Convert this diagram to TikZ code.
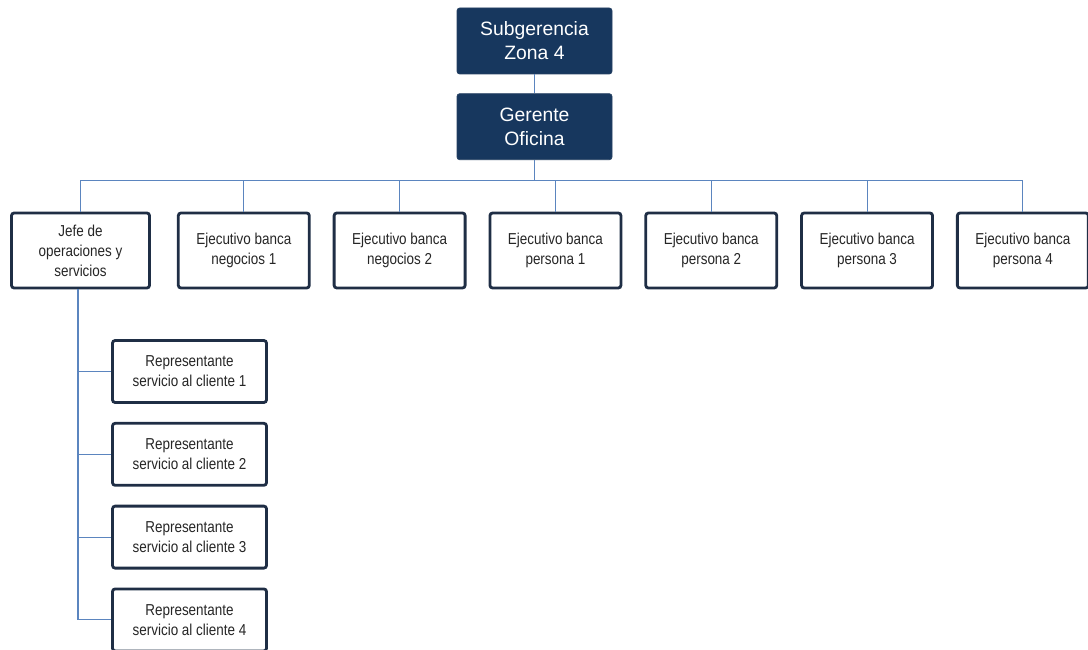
\documentclass[tikz,border=0pt]{standalone}
\usepackage{fontspec}
\setmainfont{Liberation Sans}
\newfontfamily\boxfont{Liberation Sans}[FakeStretch=0.85]
\usetikzlibrary{positioning}
\definecolor{navy}{HTML}{17375E}
\definecolor{boxline}{HTML}{1F2E45}
\definecolor{linkblue}{HTML}{5B85BF}

\begin{document}
\begin{tikzpicture}[
    % General node distance between boxes of one row
    node distance=0.44cm,
    % Styles
    head/.style={rectangle, draw=navy!85!gray, fill=navy, rounded corners=1.5pt, minimum width=3.1cm, minimum height=1.32cm, text=white, align=center, font=\fontsize{11}{13.6}\selectfont},
    unit/.style={rectangle, draw=boxline, line width=1.6pt, rounded corners=1.5pt, fill=white, minimum width=2.62cm, minimum height=1.5cm, align=center, text=black!85, font=\boxfont\fontsize{9}{11.3}\selectfont},
    rep/.style={unit, minimum width=3.08cm, minimum height=1.24cm},
    link/.style={draw=linkblue, line width=0.6pt}
]
\useasboundingbox (0,0) rectangle (21.76,-13);

% --- Top of the chart ---
\node[head] (sub) at (10.69,-0.82) {Subgerencia\\Zona 4};
\node[head, below=0.38cm of sub] (ger) {Gerente\\Oficina};

% --- Second row ---
\node[unit, minimum width=2.76cm] (jefe) at (1.61,-5.01) {Jefe de\\operaciones y\\servicios};
\node[unit, right=0.52cm of jefe] (neg1) {Ejecutivo banca\\negocios 1};
\node[unit, right=of neg1] (neg2) {Ejecutivo banca\\negocios 2};
\node[unit, right=of neg2] (per1) {Ejecutivo banca\\persona 1};
\node[unit, right=of per1] (per2) {Ejecutivo banca\\persona 2};
\node[unit, right=of per2] (per3) {Ejecutivo banca\\persona 3};
\node[unit, right=of per3] (per4) {Ejecutivo banca\\persona 4};

% --- Staff under the Jefe ---
\node[rep] (rep1) at (3.79,-7.43) {Representante\\servicio al cliente 1};
\node[rep, below=0.36cm of rep1] (rep2) {Representante\\servicio al cliente 2};
\node[rep, below=0.36cm of rep2] (rep3) {Representante\\servicio al cliente 3};
\node[rep, below=0.36cm of rep3] (rep4) {Representante\\servicio al cliente 4};

% --- Connectors ---
\draw[link] (sub) -- (ger);
\foreach \u in {jefe, neg1, neg2, per1, per2, per3, per4}
  \draw[link] (ger.south) -- ++(0,-0.4) -| (\u.north);
\coordinate (trunk) at ([xshift=-0.05cm]jefe.south);
\draw[link] (trunk) -- (trunk |- rep4.west);
\foreach \r in {rep1, rep2, rep3, rep4}
  \draw[link] (trunk |- \r.west) -- (\r.west);

\end{tikzpicture}
\end{document}
